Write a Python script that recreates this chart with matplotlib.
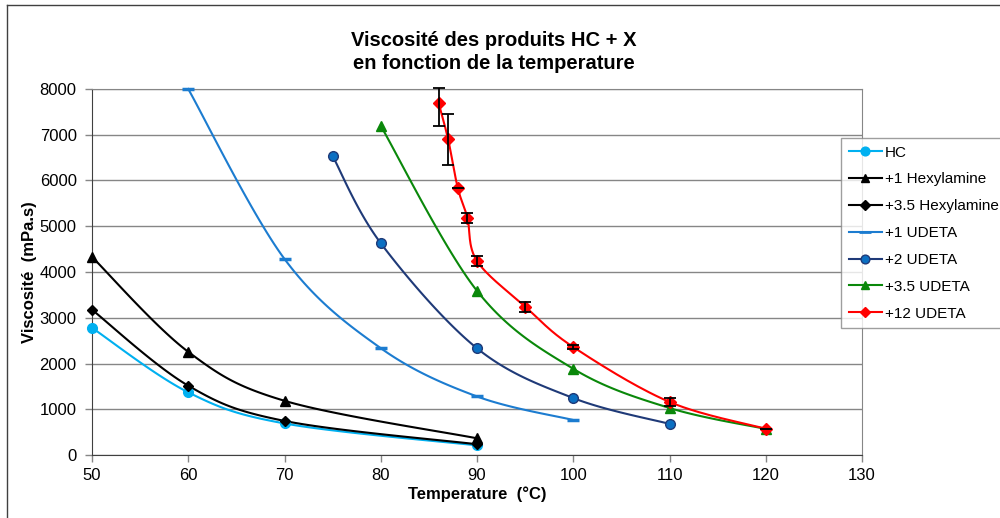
import numpy as np
import matplotlib.pyplot as plt
from matplotlib.lines import Line2D

plt.rcParams['font.family'] = ['Liberation Sans', 'DejaVu Sans']

# Données
t_hc = [50, 60, 70, 90]
v_hc = [2780, 1370, 690, 210]

t_hex1 = [50, 60, 70, 90]
v_hex1 = [4330, 2255, 1185, 365]

t_hex35 = [50, 60, 70, 90]
v_hex35 = [3175, 1515, 745, 235]

t_ud1 = [60, 70, 80, 90, 100]
v_ud1 = [8000, 4285, 2335, 1280, 765]

t_ud2 = [75, 80, 90, 100, 110]
v_ud2 = [6535, 4630, 2332, 1245, 680]

t_ud35 = [80, 90, 100, 110, 120]
v_ud35 = [7195, 3588, 1885, 1028, 570]

t_ud12 = [86, 87, 88, 89, 90, 95, 100, 110, 120]
v_ud12 = [7700, 6900, 5840, 5185, 4240, 3245, 2360, 1160, 575]
err_low = [500, 560, 0, 110, 100, 110, 50, 80, 0]
err_high = [315, 555, 0, 110, 100, 110, 50, 80, 0]


def lisse(x, y, n=30):
    # courbe lissee type Excel (Catmull-Rom -> Bezier)
    x = np.asarray(x, float)
    y = np.asarray(y, float)
    px = np.concatenate([[x[0]], x, [x[-1]]])
    py = np.concatenate([[y[0]], y, [y[-1]]])
    xs, ys = [], []
    s = np.linspace(0, 1, n)
    for i in range(1, len(px) - 2):
        p0 = np.array([px[i], py[i]])
        p3 = np.array([px[i + 1], py[i + 1]])
        c1 = p0 + (np.array([px[i + 1], py[i + 1]]) - np.array([px[i - 1], py[i - 1]])) / 6
        c2 = p3 - (np.array([px[i + 2], py[i + 2]]) - np.array([px[i], py[i]])) / 6
        b = ((1 - s) ** 3)[:, None] * p0 + (3 * (1 - s) ** 2 * s)[:, None] * c1 \
            + (3 * (1 - s) * s ** 2)[:, None] * c2 + (s ** 3)[:, None] * p3
        xs.extend(b[:, 0])
        ys.extend(b[:, 1])
    return xs, ys


fig = plt.figure(figsize=(10, 5.18), dpi=100)
ax = fig.add_axes([0.092, 0.1216, 0.77, 0.7066])

series = [
    (t_hc, v_hc, 'HC', '#00B0F0', 'o', '#00B0F0', '#00B0F0', 7),
    (t_hex1, v_hex1, '+1 Hexylamine', 'black', '^', 'black', 'black', 7),
    (t_hex35, v_hex35, '+3.5 Hexylamine', 'black', 'D', 'black', 'black', 5.5),
    (t_ud1, v_ud1, '+1 UDETA', '#1C7CD0', '_', '#1C7CD0', '#1C7CD0', 9),
    (t_ud2, v_ud2, '+2 UDETA', '#1F3A78', 'o', '#0B6FC2', '#1F3A78', 7),
    (t_ud35, v_ud35, '+3.5 UDETA', '#0A880A', '^', '#0A880A', '#0A880A', 7),
    (t_ud12, v_ud12, '+12 UDETA', '#FF0000', 'D', '#FF0000', '#FF0000', 6),
]

handles = []
for x, y, lab, col, mk, fc, ec, ms in series:
    xs, ys = lisse(x, y)
    ax.plot(xs, ys, color=col, lw=1.5, zorder=3, clip_on=False)
    ax.plot(x, y, ls='none', marker=mk, ms=ms, mfc=fc, mec=ec, mew=2.5 if mk == '_' else 1,
            zorder=4, clip_on=False)
    handles.append(Line2D([], [], color=col, lw=1.5, marker=mk, ms=ms * 0.9, mfc=fc, mec=ec,
                          mew=2 if mk == '_' else 1, label=lab))

ax.errorbar(t_ud12, v_ud12, yerr=[err_low, err_high], fmt='none', ecolor='black',
            elinewidth=1.3, capsize=4, capthick=1.3, zorder=5, clip_on=False)

ax.set_xlim(50, 130)
ax.set_ylim(0, 8000)
ax.set_xticks(range(50, 131, 10))
ax.set_yticks(range(0, 8001, 1000))
ax.yaxis.grid(True, color='#868686', lw=1)
ax.set_axisbelow(True)
ax.tick_params(direction='out', length=5, width=1, color='#868686', labelsize=12, pad=4)
ax.tick_params(axis='y', pad=6)
for sp in ['left', 'bottom']:
    ax.spines[sp].set_color('#404040')
ax.spines['right'].set_color('#868686')
ax.spines['top'].set_color('#868686')

ax.set_xlabel('Temperature  (°C)', fontsize=12, fontweight='bold', labelpad=3)
ax.set_ylabel('Viscosité  (mPa.s)', fontsize=12, fontweight='bold', labelpad=2)
fig.text(0.494, 0.9, 'Viscosité des produits HC + X\nen fonction de la temperature',
         ha='center', va='center', fontsize=14.5, fontweight='bold', linespacing=1.25)

leg = fig.legend(handles=handles, loc='upper left', bbox_to_anchor=(0.841, 1 - 138 / 518),
                 fontsize=11, frameon=True, fancybox=False, edgecolor='#868686',
                 handlelength=2.2, handletextpad=0.15, labelspacing=0.84,
                 borderpad=0.5, borderaxespad=0)
leg.get_frame().set_linewidth(1)

# cadre du graphique
fig.add_artist(Line2D([0.007, 0.007], [0, 1 - 5 / 518], color='#404040', lw=1))
fig.add_artist(Line2D([0.007, 1], [1 - 5 / 518, 1 - 5 / 518], color='#404040', lw=1))

fig.savefig('out.png', dpi=100)
